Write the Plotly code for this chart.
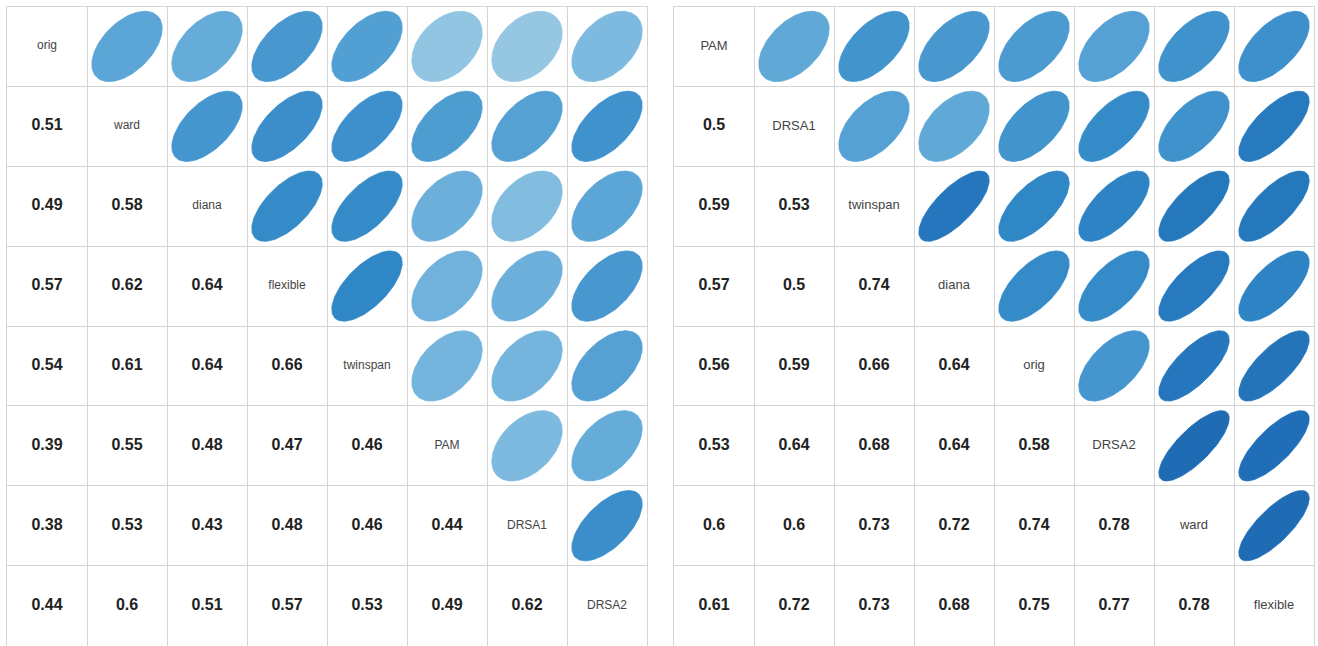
import numpy as np
import plotly.graph_objects as go
from plotly.colors import sample_colorscale

# Variable order of each panel
left_labels = ["orig", "ward", "diana", "flexible", "twinspan", "PAM", "DRSA1", "DRSA2"]
right_labels = ["PAM", "DRSA1", "twinspan", "diana", "orig", "DRSA2", "ward", "flexible"]

# Lower-triangle correlations, row by row
left_lower = [
    [],
    [0.51],
    [0.49, 0.58],
    [0.57, 0.62, 0.64],
    [0.54, 0.61, 0.64, 0.66],
    [0.39, 0.55, 0.48, 0.47, 0.46],
    [0.38, 0.53, 0.43, 0.48, 0.46, 0.44],
    [0.44, 0.6, 0.51, 0.57, 0.53, 0.49, 0.62],
]
right_lower = [
    [],
    [0.5],
    [0.59, 0.53],
    [0.57, 0.5, 0.74],
    [0.56, 0.59, 0.66, 0.64],
    [0.53, 0.64, 0.68, 0.64, 0.58],
    [0.6, 0.6, 0.73, 0.72, 0.74, 0.78],
    [0.61, 0.72, 0.73, 0.68, 0.75, 0.77, 0.78],
]

# Blue ramp used for the ellipses (correlation -> colour)
R_MIN, R_MAX = 0.36, 0.80
ramp = [
    (0.36, "#9dcbe3"),
    (0.45, "#7ab8de"),
    (0.51, "#5ba6d6"),
    (0.58, "#4596ce"),
    (0.66, "#3087c6"),
    (0.74, "#2576bc"),
    (0.80, "#1c67b2"),
]
colorscale = [[(v - R_MIN) / (R_MAX - R_MIN), c] for v, c in ramp]

N = 8
GRID = "#d4d4d4"
ELL_HALF = 0.44
t = np.linspace(0, 2 * np.pi, 120)


def full_matrix(lower):
    m = np.eye(N)
    for i, row in enumerate(lower):
        for j, v in enumerate(row):
            m[i, j] = v
            m[j, i] = v
    return m


def add_panel(fig, labels, lower, xref, yref, label_size):
    m = full_matrix(lower)
    num_x, num_y, num_t = [], [], []
    lab_x, lab_y = [], []
    for i in range(N):
        cy = N - i - 0.5
        for j in range(N):
            cx = j + 0.5
            r = m[i, j]
            if i > j:
                num_x.append(cx)
                num_y.append(cy)
                num_t.append(f"{r:g}")
            elif i == j:
                lab_x.append(cx)
                lab_y.append(cy)
            else:
                d = np.arccos(r)
                ex = cx + ELL_HALF * np.cos(t + d / 2)
                ey = cy + ELL_HALF * np.cos(t - d / 2)
                col = sample_colorscale(colorscale, [(r - R_MIN) / (R_MAX - R_MIN)])[0]
                fig.add_trace(go.Scatter(
                    x=ex, y=ey, mode="lines", fill="toself",
                    fillcolor=col, line=dict(color=col, width=0.8),
                    hoverinfo="skip", xaxis=xref, yaxis=yref,
                ))
    fig.add_trace(go.Scatter(
        x=num_x, y=num_y, text=num_t, mode="text",
        textfont=dict(family="Liberation Sans, Arial, sans-serif", size=16,
                      color="#222222", weight="bold"),
        hoverinfo="skip", xaxis=xref, yaxis=yref,
    ))
    fig.add_trace(go.Scatter(
        x=lab_x, y=lab_y, text=labels, mode="text",
        textfont=dict(family="Liberation Sans, Arial, sans-serif", size=label_size,
                      color="#444444"),
        hoverinfo="skip", xaxis=xref, yaxis=yref,
    ))


W, H = 1318, 646
fig = go.Figure()
add_panel(fig, left_labels, left_lower, "x", "y", 12)
add_panel(fig, right_labels, right_lower, "x2", "y2", 13)

axis_common = dict(
    range=[0, N], tickmode="array", tickvals=list(range(N + 1)),
    showgrid=True, gridcolor=GRID, gridwidth=1,
    showline=True, mirror=True, linecolor=GRID, linewidth=1,
    showticklabels=False, ticks="", zeroline=False, fixedrange=True,
)
ydom = [0.5 / H, 639.5 / H]
fig.update_layout(
    width=W, height=H,
    margin=dict(l=0, r=0, t=0, b=0),
    paper_bgcolor="white", plot_bgcolor="white",
    showlegend=False,
    xaxis=dict(domain=[7 / W, 647 / W], anchor="y", **axis_common),
    yaxis=dict(domain=ydom, anchor="x", **axis_common),
    xaxis2=dict(domain=[674 / W, 1314 / W], anchor="y2", **axis_common),
    yaxis2=dict(domain=ydom, anchor="x2", **axis_common),
)

fig.write_html("out.html")
